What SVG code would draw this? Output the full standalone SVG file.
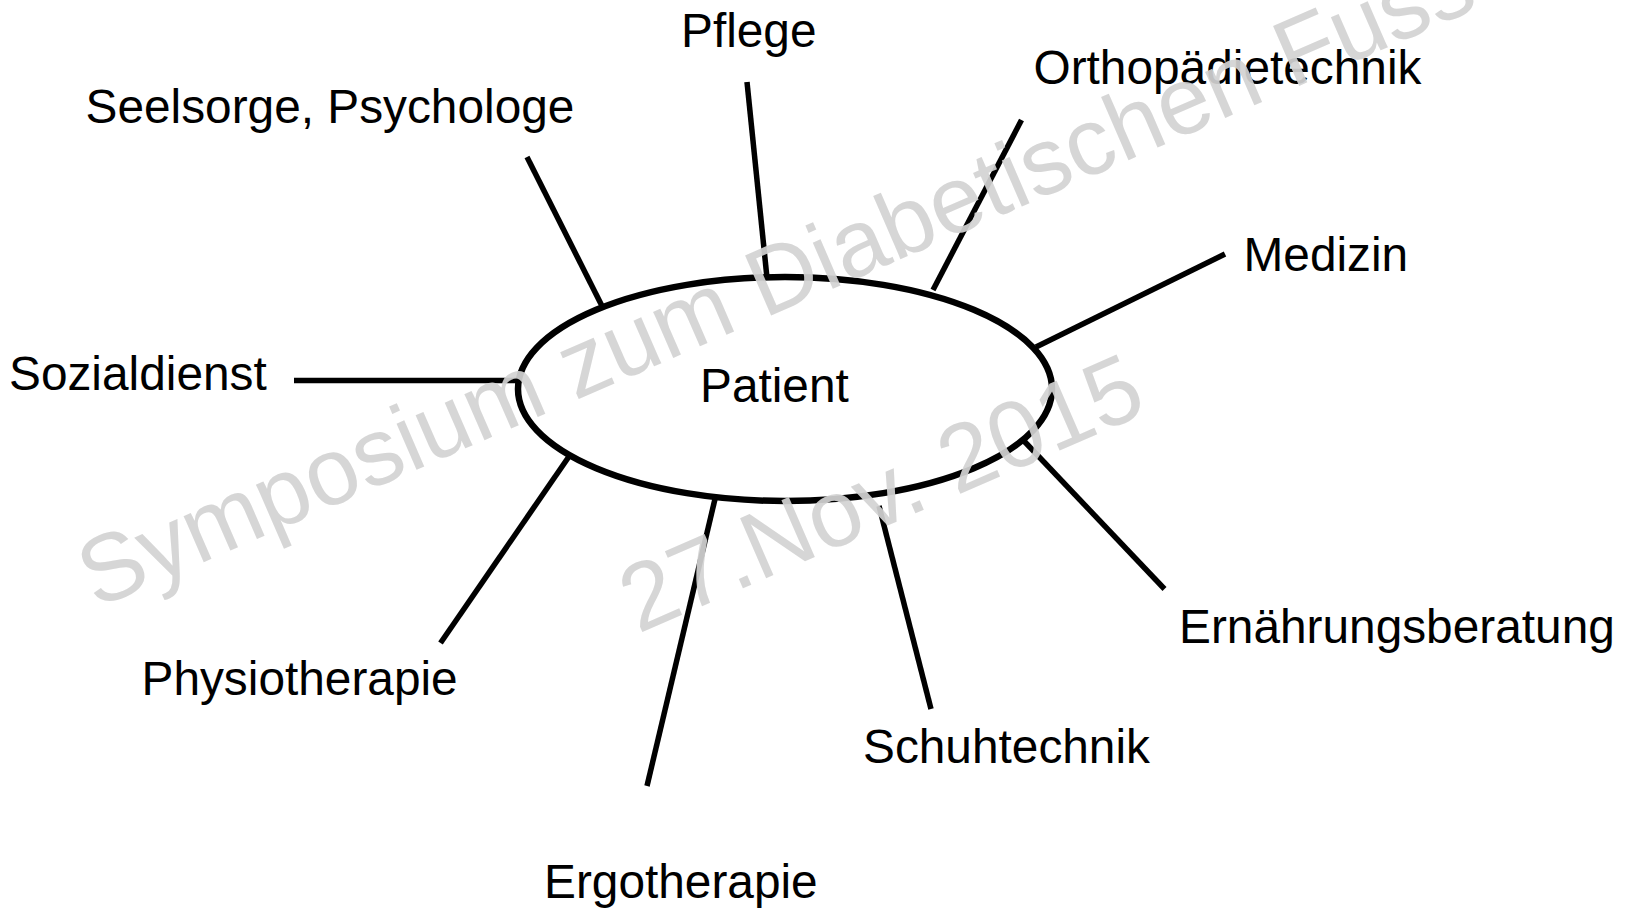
<svg xmlns="http://www.w3.org/2000/svg" width="1626" height="913" viewBox="0 0 1626 913">
<style>
.lbl{font-family:"Liberation Sans",Arial,sans-serif;font-size:47.8px;fill:#000}
.ln{stroke:#000;stroke-width:5.5;fill:none;stroke-linecap:butt}
.wm{font-family:"Liberation Sans",Arial,sans-serif;font-size:95px;fill:#d3d3d3;fill-opacity:0.92}
</style>
<rect x="0" y="0" width="1626" height="913" fill="#fff"/>
<g id="connectors">
<line class="ln" x1="747" y1="82" x2="767" y2="278"/>
<line class="ln" x1="527" y1="157" x2="602" y2="306"/>
<line class="ln" x1="294" y1="380.5" x2="517" y2="380.5"/>
<line class="ln" x1="1021.5" y1="120" x2="933" y2="290"/>
<line class="ln" x1="1225" y1="254" x2="1036" y2="347"/>
<line class="ln" x1="570" y1="455" x2="440.5" y2="643"/>
<line class="ln" x1="715" y1="499" x2="647" y2="786"/>
<line class="ln" x1="879" y1="506" x2="931" y2="709"/>
<line class="ln" x1="1024" y1="441" x2="1164.5" y2="589"/>
</g>
<g id="patient">
<ellipse cx="785" cy="389" rx="267" ry="112" fill="none" stroke="#000" stroke-width="6.5"/>
<text class="lbl" x="700" y="402">Patient</text>
</g>
<g id="pflege"><text class="lbl" x="681" y="47">Pflege</text></g>
<g id="seelsorge"><text class="lbl" x="85.5" y="122.5">Seelsorge, Psychologe</text></g>
<g id="orthopaedie"><text class="lbl" x="1033.5" y="84">Orthopädietechnik</text></g>
<g id="medizin"><text class="lbl" x="1243.5" y="270.5">Medizin</text></g>
<g id="sozialdienst"><text class="lbl" x="9" y="390">Sozialdienst</text></g>
<g id="physiotherapie"><text class="lbl" x="141.5" y="695">Physiotherapie</text></g>
<g id="ergotherapie"><text class="lbl" x="544" y="898">Ergotherapie</text></g>
<g id="schuhtechnik"><text class="lbl" x="863" y="763">Schuhtechnik</text></g>
<g id="ernaehrung"><text class="lbl" x="1179" y="643">Ernährungsberatung</text></g>
<g id="watermark">
<text class="wm" transform="translate(96,609) rotate(-23.5)">Symposium zum Diabetischen Fuss</text>
<text class="wm" transform="translate(638,634) rotate(-23.5)">27.Nov. 2015</text>
</g>
</svg>
